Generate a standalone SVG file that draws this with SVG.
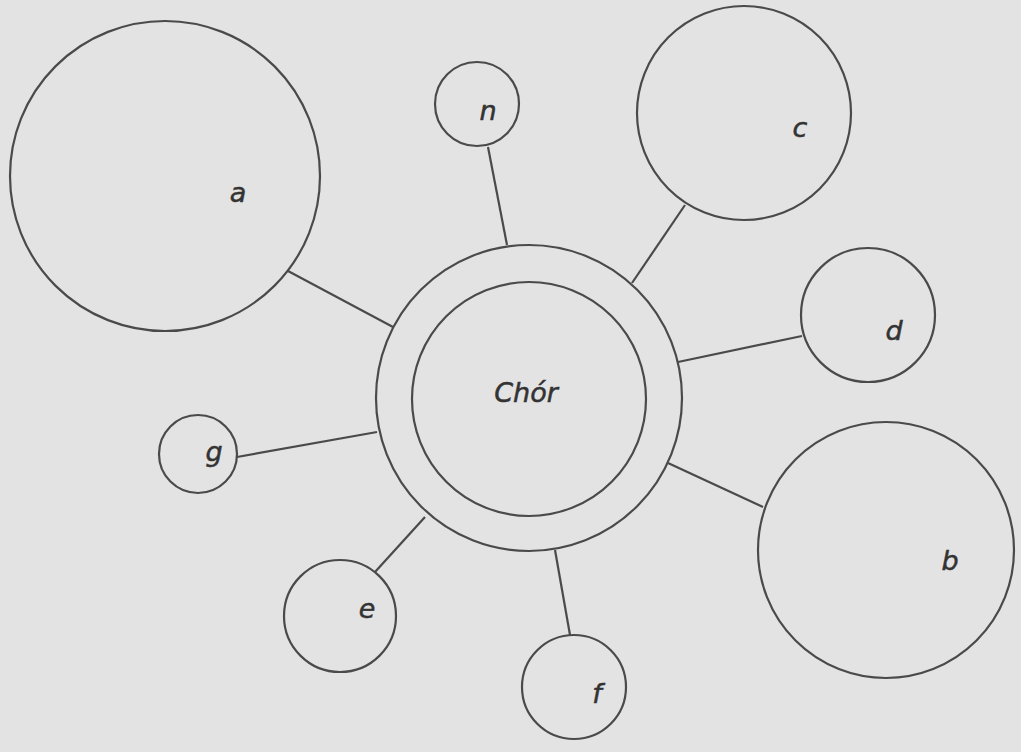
<svg xmlns="http://www.w3.org/2000/svg" width="1021" height="752" viewBox="0 0 1021 752">
<style>
.n{fill:none;stroke:#4a4a4a;stroke-width:2.2}
.c{stroke:#4a4a4a;stroke-width:2.2;fill:none}
.t{font-family:"DejaVu Sans",sans-serif;font-style:italic;font-size:27px;fill:#333;stroke:#333;stroke-width:0.5;text-anchor:middle}
</style>
<rect width="1021" height="752" fill="#e3e3e3"/>
<g id="connectors">
<line class="c" x1="288" y1="271" x2="393" y2="327"/>
<line class="c" x1="488" y1="147" x2="507" y2="245"/>
<line class="c" x1="685" y1="205" x2="632" y2="283"/>
<line class="c" x1="802" y1="336" x2="678" y2="362"/>
<line class="c" x1="763" y1="507" x2="668" y2="463"/>
<line class="c" x1="237" y1="457" x2="377" y2="432"/>
<line class="c" x1="375" y1="572" x2="425" y2="517"/>
<line class="c" x1="570" y1="635" x2="555" y2="550"/>
</g>
<g id="chor">
<circle class="n" cx="529" cy="398" r="153"/>
<circle class="n" cx="529" cy="399" r="117"/>
<text class="t" x="526" y="402">Chór</text>
</g>
<g id="a"><circle class="n" cx="165" cy="176" r="155"/><text class="t" x="238" y="202">a</text></g>
<g id="h"><circle class="n" cx="477" cy="104" r="42"/><text class="t" x="488" y="120">n</text></g>
<g id="c"><circle class="n" cx="744" cy="113" r="107"/><text class="t" x="800" y="137">c</text></g>
<g id="d"><circle class="n" cx="868" cy="315" r="67"/><text class="t" x="894" y="340">d</text></g>
<g id="b"><circle class="n" cx="886" cy="550" r="128"/><text class="t" x="950" y="570">b</text></g>
<g id="g"><circle class="n" cx="198" cy="454" r="39"/><text class="t" x="214" y="461">g</text></g>
<g id="e"><circle class="n" cx="340" cy="616" r="56"/><text class="t" x="367" y="618">e</text></g>
<g id="f"><circle class="n" cx="574" cy="687" r="52"/><text class="t" x="597" y="703">f</text></g>
</svg>
